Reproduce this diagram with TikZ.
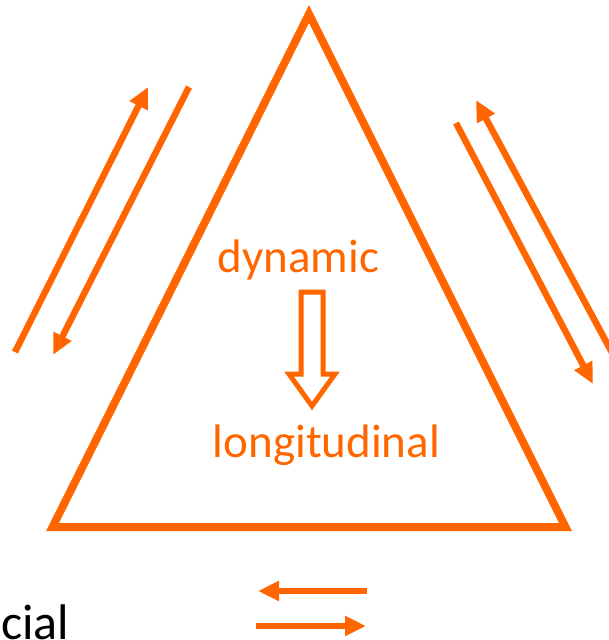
\documentclass[tikz,border=0pt]{standalone}
\usepackage{fontspec}
\setmainfont{Carlito}
\usetikzlibrary{arrows.meta}
\definecolor{flame}{HTML}{FF6600}

\begin{document}
\begin{tikzpicture}[x=1pt, y=-1pt,
label/.style={text=flame, font=\fontsize{47}{50}\selectfont, inner sep=0pt, anchor=base},
side/.style={draw=flame, line width=6.5pt, -{Triangle[length=21pt, width=19pt]}},
edge/.style={draw=flame, line width=8pt, miter limit=10}
]
\useasboundingbox (0,0) rectangle (609,640);
%Corners
\coordinate (top)   at (309,14);
\coordinate (left)  at (52.5,527);
\coordinate (right) at (565.5,527);
%Nodes
\node[label]      (dyn)    at (298.5,272)      {dynamic};
\node[label]      (lon)    at (326.5,457)      {longitudinal};
\node[label, text=black, anchor=base west, font=\fontsize{50}{54}\selectfont] (cial) at (1,639) {cial};
%Arrow ends
\coordinate (l1a) at (15,352);   \coordinate (l1b) at (148,87);
\coordinate (l2a) at (189,87);   \coordinate (l2b) at (53,355);
\coordinate (r1a) at (616,360);  \coordinate (r1b) at (476,100);
\coordinate (r2a) at (456,123);  \coordinate (r2b) at (593,384);
\coordinate (b1a) at (367,591);  \coordinate (b1b) at (258,591);
\coordinate (b2a) at (256,626);  \coordinate (b2b) at (366,626);
%Triangle
\draw[edge] (top) -- (left) -- (right) -- cycle;
%Hollow arrow
\draw[draw=flame, line width=5pt, miter limit=10]
  (301,292) -- (323,292) -- (323,374) -- (335,374) -- (312,406)
  -- (289,374) -- (301,374) -- cycle;
%Lines
\draw[side] (l1a) -- (l1b);
\draw[side] (l2a) -- (l2b);
\draw[side] (r1a) -- (r1b);
\draw[side] (r2a) -- (r2b);
\draw[side] (b1a) -- (b1b);
\draw[side] (b2a) -- (b2b);
\end{tikzpicture}
\end{document}
